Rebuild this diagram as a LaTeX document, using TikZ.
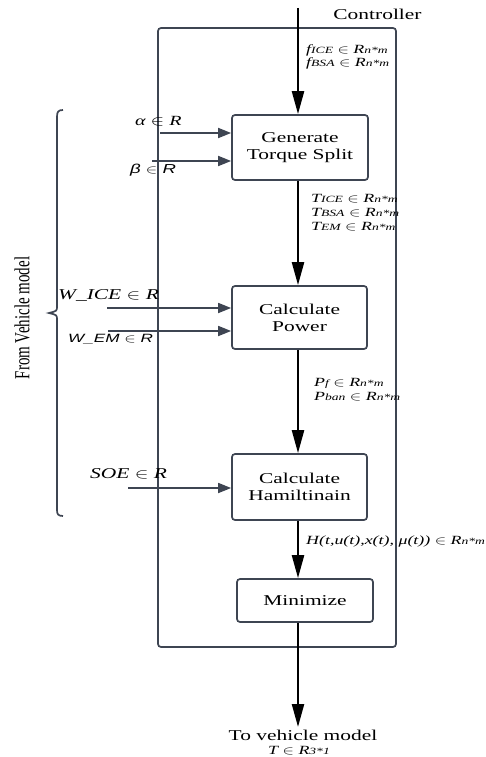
\documentclass[tikz,border=0pt]{standalone}
\usepackage{fontspec}
\usepackage{graphicx}
\setmainfont{Liberation Serif}
\setsansfont{Liberation Sans}
\usetikzlibrary{arrows.meta}
\definecolor{ln}{HTML}{3E4552}
\newcommand\sx[1]{\scalebox{1.43}[1]{#1}}
\newcommand\sm[1]{{\fontsize{9.5}{10}\selectfont #1}}
\begin{document}
\begin{tikzpicture}[x=1pt,y=-1pt,
  box/.style={draw=ln, line width=1.7pt, rounded corners=3pt, inner sep=0pt, align=center, font=\fontsize{15}{17}\selectfont},
  main/.style={line width=2.3pt, -{Triangle[length=23pt,width=12pt]}},
  inp/.style={draw=ln, line width=1.7pt, -{Triangle[length=13pt,width=10pt]}},
  lab/.style={inner sep=0pt, anchor=west, font=\itshape\fontsize{12.5}{14}\selectfont},
  big/.style={inner sep=0pt, font=\fontsize{15}{17}\selectfont},
  brc/.style={draw=ln, line width=1.7pt}]
\useasboundingbox (0,0) rectangle (486,757);
% controller frame
\node[draw=ln, line width=1.7pt, rounded corners=3pt, minimum width=238pt, minimum height=619pt, inner sep=0pt] (ctrl) at (277,337.5) {};
\node[big] (ctl) at (377.5,14) {\sx{Controller}};
% blocks
\node[box, minimum width=136pt, minimum height=65pt] (gen) at (300,147.5) {\sx{Generate}\\\sx{Torque Split}};
\node[box, minimum width=135pt, minimum height=63pt] (pow) at (299.5,317.5) {\sx{Calculate}\\\sx{Power}};
\node[box, minimum width=135pt, minimum height=66pt] (ham) at (299.5,487) {\sx{Calculate}\\\sx{Hamiltinain}};
\node[box, minimum width=136pt, minimum height=43pt] (min) at (305,600.5) {\sx{Minimize}};
% main flow
\coordinate (top) at (298,8);
\coordinate (out) at (298,727);
\draw[main] (top) -- (top |- gen.north);
\draw[main] (gen.south -| top) -- (pow.north -| top);
\draw[main] (pow.south -| top) -- (ham.north -| top);
\draw[main] (ham.south -| top) -- (min.north -| top);
\draw[main] (min.south -| top) -- (out);
% flow labels
\node[lab] (l1) at (306,50) {\sx{f\sm{ICE} $\in$ R\sm{n*m}}};
\node[lab] (l2) at (306,63) {\sx{f\sm{BSA} $\in$ R\sm{n*m}}};
\node[lab] (l3) at (311,199) {\sx{T\sm{ICE} $\in$ R\sm{n*m}}};
\node[lab] (l4) at (311,213) {\sx{T\sm{BSA} $\in$ R\sm{n*m}}};
\node[lab] (l5) at (311,227) {\sx{T\sm{EM} $\in$ R\sm{n*m}}};
\node[lab] (l6) at (314,383) {\sx{P\sm{f} $\in$ R\sm{n*m}}};
\node[lab] (l7) at (314,397) {\sx{P\sm{ban} $\in$ R\sm{n*m}}};
\node[lab] (l8) at (306,541) {\sx{H(t,u(t),x(t), μ(t)) $\in$ R\sm{n*m}}};
% inputs
\coordinate (a0) at (160,133);
\coordinate (b0) at (152,161);
\coordinate (w1) at (107,308);
\coordinate (w2) at (108,331);
\coordinate (s0) at (128,488);
\draw[inp] (a0) -- (a0 -| gen.west);
\draw[inp] (b0) -- (b0 -| gen.west);
\draw[inp] (w1) -- (w1 -| pow.west);
\draw[inp] (w2) -- (w2 -| pow.west);
\draw[inp] (s0) -- (s0 -| ham.west);
\node[lab, font=\itshape\fontsize{14}{16}\selectfont] (la) at (135,121) {\sx{α $\in$ R}};
\node[lab, font=\sffamily\itshape\fontsize{13}{15}\selectfont] (lb) at (130,170) {\sx{β $\in$ R}};
\node[lab, font=\itshape\fontsize{15}{17}\selectfont] (lw1) at (58,295) {\sx{W\_ICE $\in$ R}};
\node[lab, font=\sffamily\itshape\fontsize{12}{14}\selectfont] (lw2) at (68,339) {\sx{W\_EM $\in$ R}};
\node[lab, font=\itshape\fontsize{15}{17}\selectfont] (ls) at (90,474) {\sx{SOE $\in$ R}};
% brace
\draw[brc] (63,110) .. controls (58,110) and (57,112) .. (57,117) -- (57,306)
  .. controls (57,311) .. (49,313) .. controls (57,315) .. (57,320) -- (57,510)
  .. controls (57,514) and (58,516) .. (63,516);
\node[big] (fvm) at (22,318) {\scalebox{1.43}[1]{\rotatebox{90}{From Vehicle model}}};
% output
\node[big] (tvm) at (303,735) {\sx{To vehicle model}};
\node[lab, anchor=center] (tt) at (299,751) {\sx{T $\in$ R\sm{3*1}}};
\end{tikzpicture}
\end{document}
